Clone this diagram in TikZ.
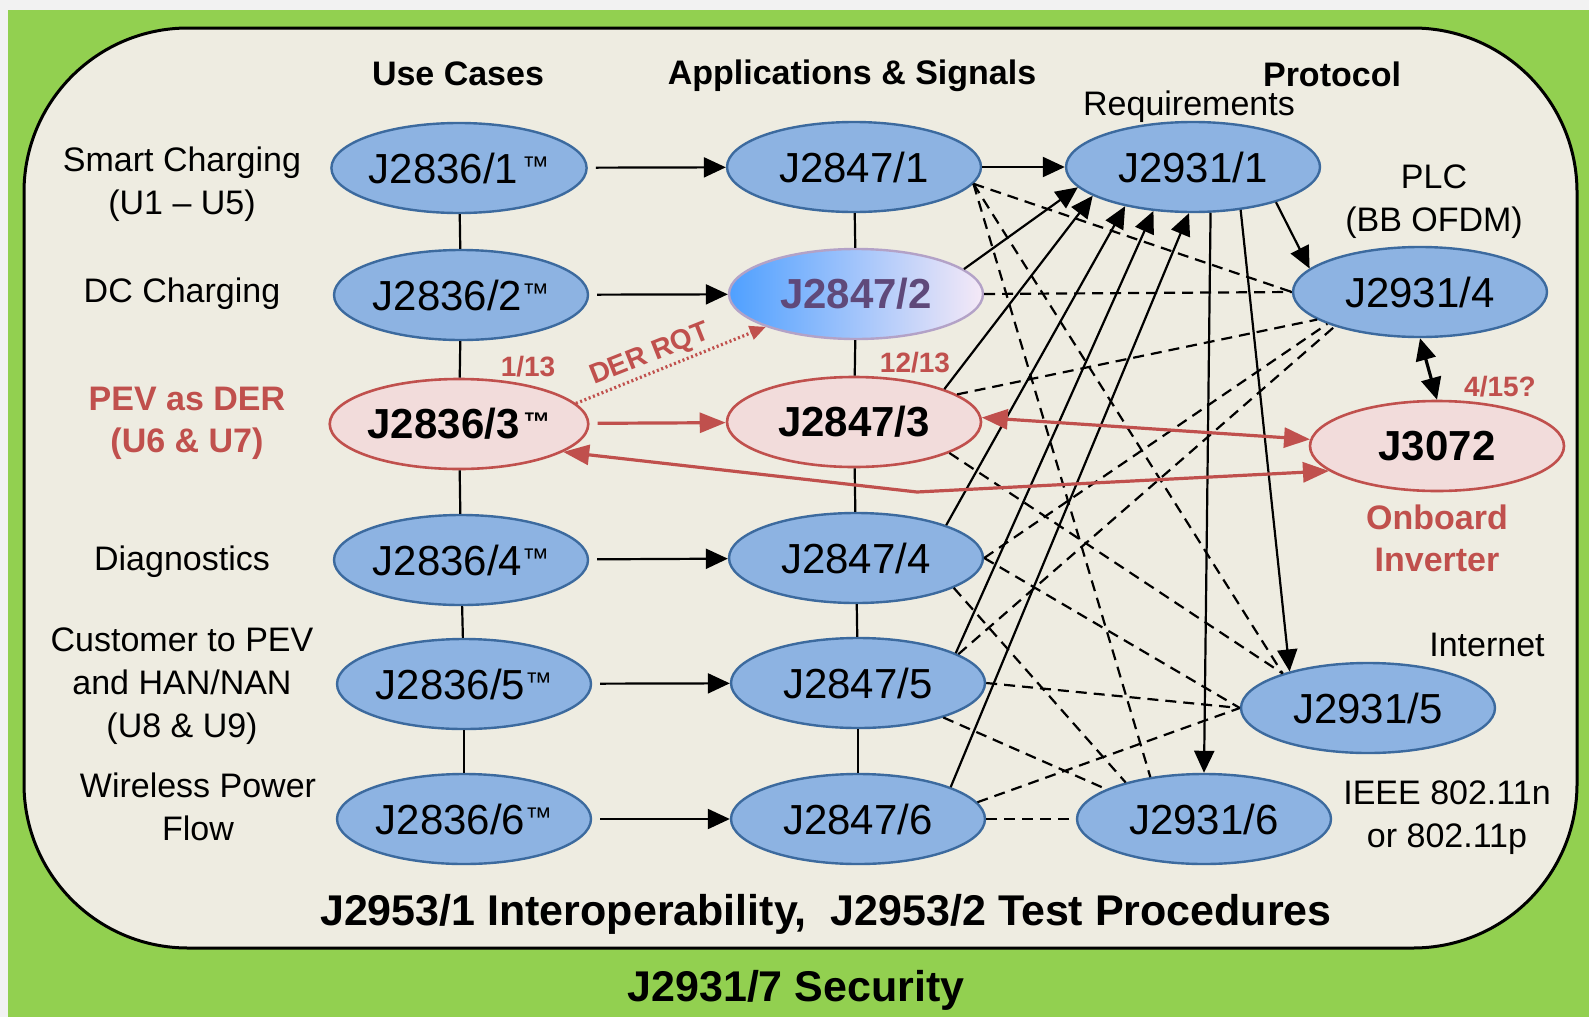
\documentclass[tikz,border=0pt]{standalone}
\usepackage{fontspec}
\setmainfont{Liberation Sans}
\usetikzlibrary{shapes.geometric,arrows.meta}
\definecolor{grn}{HTML}{92D050}
\definecolor{beige}{HTML}{EEECE1}
\definecolor{bfill}{HTML}{8DB3E2}
\definecolor{bdraw}{HTML}{3C6A9E}
\definecolor{pfill}{HTML}{F2DCDB}
\definecolor{redc}{HTML}{C0504D}
\definecolor{purp}{HTML}{5F497A}
\definecolor{lav}{HTML}{B3A2C7}
\definecolor{gblue}{HTML}{4FA0FF}
\definecolor{glav}{HTML}{F5E9F7}
\definecolor{bggray}{HTML}{F2F2F2}
\newcommand{\TMk}{\raisebox{3.6pt}{\fontsize{13.5}{13.5}\selectfont ™}}
\tikzset{
 ub/.style={ellipse, draw=bdraw, fill=bfill, line width=1.2pt, minimum width=127pt, minimum height=45pt, inner sep=0pt, font=\fontsize{21}{24}\selectfont},
 pb/.style={ub, draw=redc, fill=pfill, line width=1.3pt, font=\bfseries\fontsize{21}{24}\selectfont},
 lab/.style={align=center, font=\fontsize{17}{21.5}\selectfont},
 hdr/.style={font=\bfseries\fontsize{17}{20}\selectfont},
 rlab/.style={align=center, text=redc, font=\bfseries\fontsize{17}{21}\selectfont},
 sred/.style={text=redc, inner sep=0.5pt, font=\bfseries\fontsize{14}{16}\selectfont},
 big/.style={font=\bfseries\fontsize{21.5}{24}\selectfont},
 vl/.style={line width=1.1pt},
 arr/.style={line width=1.1pt, -{Triangle[length=11pt,width=10pt]}},
 rarr/.style={draw=redc, line width=1.6pt, -{Triangle[length=13pt,width=10pt]}},
 rdarr/.style={draw=redc, line width=1.6pt, {Triangle[length=13pt,width=10pt]}-{Triangle[length=13pt,width=10pt]}},
 darr/.style={line width=1.6pt, {Triangle[length=11pt,width=10pt]}-{Triangle[length=11pt,width=10pt]}},
 dsh/.style={line width=1.1pt, dash pattern=on 5.5pt off 3.5pt},
 rdot/.style={draw=redc, line width=1.6pt, dash pattern=on 1pt off 1.3pt, -{Triangle[length=8pt,width=7pt]}},
}
\begin{document}
\begin{tikzpicture}[x=0.5pt,y=-0.5pt]
\useasboundingbox (0,0) rectangle (1589,1017);
\fill[bggray] (0,0) rectangle (1589,1017);
\fill[grn] (8,10) rectangle (1589,1017);
% inner rounded panel
\draw[line width=1.5pt, fill=beige, rounded corners=82pt] (24,28) rectangle (1577,948);

% headers
\node[hdr] (h1) at (458,74) {Use Cases};
\node[hdr] (h2) at (852,76) {Applications \& Signals};
\node[hdr] (h3) at (1332,74) {Protocol};
\node[lab] (h4) at (1189,107) {Requirements};

% left labels
\node[lab] (tsc) at (182,184) {Smart Charging\\(U1 – U5)};
\node[lab] (tdc) at (182,294) {DC Charging};
\node[rlab] (tpev) at (187,423) {PEV as DER\\(U6 \& U7)};
\node[lab] (tdg) at (182,562) {Diagnostics};
\node[lab] (tcu) at (182,686) {Customer to PEV\\and HAN/NAN\\(U8 \& U9)};
\node[lab] (twp) at (198,807) {Wireless Power\\Flow};

% right labels
\node[lab] (tplc) at (1434,202) {PLC\\(BB OFDM)};
\node[sred] (t415) at (1500,387) {4/15?};
\node[rlab] (tinv) at (1437,538) {Onboard\\Inverter};
\node[lab] (tint) at (1487,645) {Internet};
\node[lab] (tieee) at (1447,818) {IEEE 802.11n\\or 802.11p};
\node[sred] (t113) at (528,367) {1/13};
\node[sred] (t1213) at (915,363) {12/13};
\node[sred, rotate=21.6] (tder) at (650,355) {DER RQT};

% bottom labels
\node[big] (tint2) at (826,914) {J2953/1 Interoperability,\ \ J2953/2 Test Procedures};
\node[big] (tsec) at (796,990) {J2931/7 Security};

% column 1
\node[ub] (c1) at (459,168) {J2836/1\hspace{2pt}\TMk};
\node[ub] (c2) at (461,295) {J2836/2\TMk};
\node[pb] (c3) at (459,424) {J2836/3\hspace{2pt}\TMk};
\node[ub] (c4) at (461,560) {J2836/4\TMk};
\node[ub] (c5) at (464,684) {J2836/5\TMk};
\node[ub] (c6) at (464,819) {J2836/6\TMk};

% column 2
\node[ub] (a1) at (854,167) {J2847/1};
\node[ub, draw=lav, left color=gblue, right color=glav, text=purp, font=\bfseries\fontsize{21}{24}\selectfont] (a2) at (856,294) {J2847/2};
\node[pb] (a3) at (854,422) {J2847/3};
\node[ub] (a4) at (856,558) {J2847/4};
\node[ub] (a5) at (858,683) {J2847/5};
\node[ub] (a6) at (858,819) {J2847/6};

% column 3
\node[ub] (p1) at (1193,167) {J2931/1};
\node[ub] (p4) at (1420,292) {J2931/4};
\node[pb] (j3) at (1437,446) {J3072};
\node[ub] (p5) at (1368,708) {J2931/5};
\node[ub] (p6) at (1204,819) {J2931/6};

\coordinate (mid) at (917,492);

% vertical chains
\draw[vl] (c1) -- (c2);
\draw[vl] (c2) -- (c3);
\draw[vl] (c3) -- (c4);
\draw[vl] (c4) -- (c5);
\draw[vl] (c5) -- (c6);
\draw[vl] (a1) -- (a2);
\draw[vl] (a2) -- (a3);
\draw[vl] (a3) -- (a4);
\draw[vl] (a4) -- (a5);
\draw[vl] (a5) -- (a6);

% dashed relations
\draw[dsh] (a1.352) -- (p4.west);
\draw[dsh] (a1.352) -- (p5.158);
\draw[dsh] (a1.352) -- (p6.142);
\draw[dsh] (a2.east) -- (p4.west);
\draw[dsh] (a3.15) -- (p4.195);
\draw[dsh] (a3.342) -- (p5.158);
\draw[dsh] (a4.east) -- (p4.199);
\draw[dsh] (a4.east) -- (p5.west);
\draw[dsh] (a4.343) -- (p6.155);
\draw[dsh] (a5.16) -- (p4.202);
\draw[dsh] (a5.east) -- (p5.west);
\draw[dsh] (a5.338) -- (p6.163);
\draw[dsh] (a6.8) -- (p5.west);
\draw[dsh] (a6.east) -- (p6.west);

% horizontal arrows
\draw[arr, shorten <=4pt] (c1) -- (a1);
\draw[arr, shorten <=4pt] (c2) -- (a2);
\draw[rarr, shorten <=4pt] (c3) -- (a3);
\draw[arr, shorten <=4pt] (c4) -- (a4);
\draw[arr, shorten <=4pt] (c5) -- (a5);
\draw[arr, shorten <=4pt] (c6) -- (a6);

% arrows into J2931/1
\draw[arr] (a1) -- (p1);
\draw[arr] (a2.13) -- (p1.190);
\draw[arr] (a3.20) -- (p1.196);
\draw[arr] (a4.20) -- (p1.210);
\draw[arr] (a5.17) -- (p1.228);
\draw[arr] (a6.19) -- (p1.265);

% arrows out of J2931/1
\draw[arr] (p1.337) -- (p4.168);
\draw[arr] (p1.291) -- (p6.north);
\draw[arr] (p1.318) -- (p5.155);
\draw[darr] (p4.south) -- (j3.north);

% red links
\draw[rdarr] (a3.2) -- (j3.177);
\draw[rdarr] (c3.345) -- (mid) -- (j3.193);
\draw[rdot] (c3.10) -- (a2.200);
\end{tikzpicture}
\end{document}
